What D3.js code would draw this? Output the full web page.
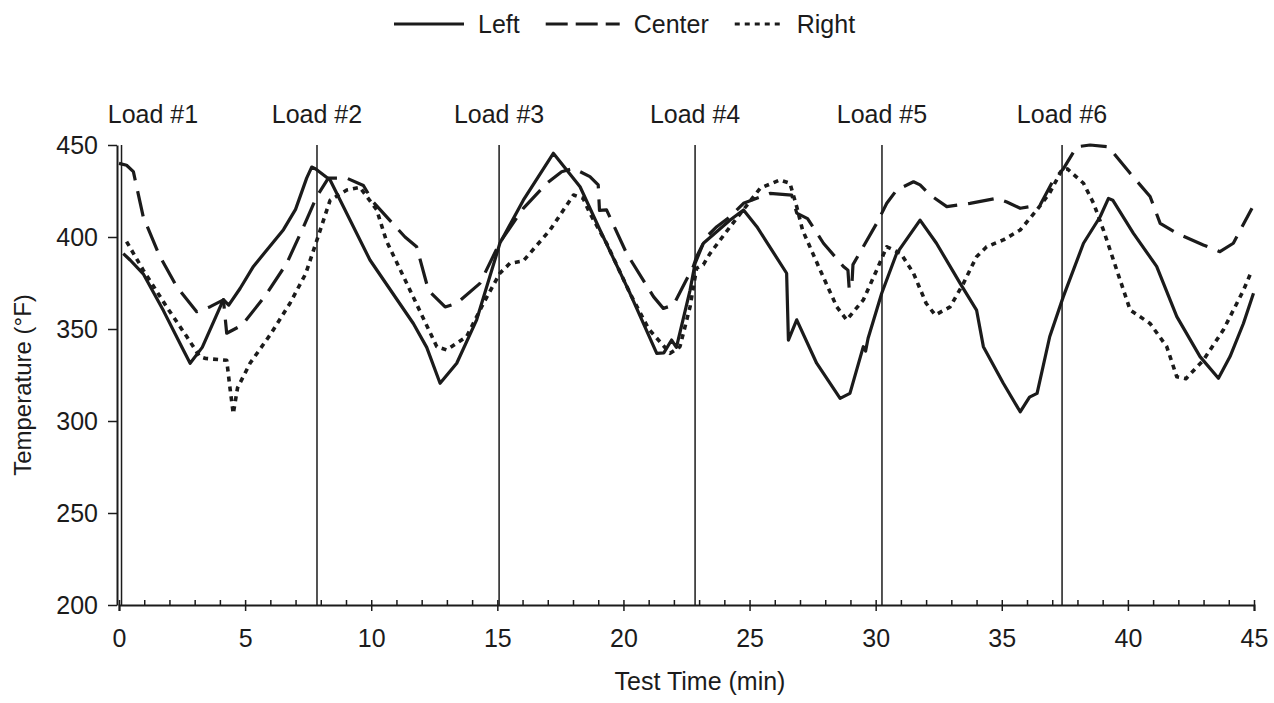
<!DOCTYPE html>
<html>
<head>
<meta charset="utf-8">
<script src="https://cdn.jsdelivr.net/npm/d3@7"></script>
<style>
  body { margin: 0; background: #fff; }
  svg { display: block; font-family: "Liberation Sans", Arial, Helvetica, sans-serif; }
</style>
</head>
<body>
<div id="chart"></div>
<script>
// temperature traces, [time (min), temp (°F)]
const leftData = [
  [0.17,391],[0.44,387.5],[0.96,380],[1.76,360],[2.55,338.6],[2.82,331.4],[3.3,340],[4.14,366],[4.35,363],
  [4.8,372],[5.33,384],[6.52,404],[7.0,415],[7.44,432],[7.64,438],[7.8,437],[8.37,431],[9.95,387.5],
  [11.67,353],[12.2,340],[12.73,320.5],[13.39,331.4],[14.18,355],[14.98,391],[15.1,396.6],[16.03,420],
  [17.22,445.5],[18.28,427.3],[19.07,403.8],[20.26,369.4],[21.32,336.8],[21.6,337],[21.91,344],[22.1,340],
  [22.64,371],[22.84,385.7],[23.17,396.6],[24.23,409.2],[24.76,414.7],[25.29,405.6],[26.47,380.3],
  [26.54,344],[26.87,355],[27.66,331.4],[28.59,312.3],[28.98,315],[29.51,340.4],[29.6,338],[29.7,345],
  [30.24,369.4],[30.83,391],[31.76,409.2],[32.41,396.6],[33.35,374.8],[34.0,360.3],[34.27,340.4],
  [35.06,320.5],[35.73,305],[36.1,313],[36.4,315],[36.9,345.8],[37.44,367.6],[38.24,396.6],[38.9,411],
  [39.23,421],[39.4,420],[40.22,402],[41.14,384],[41.94,356.7],[42.86,335],[43.59,323.2],[44.05,335],
  [44.58,353],[44.98,369.4]
];
const centerData = [
  [0,440],[0.3,439],[0.57,435.5],[0.96,411],[1.6,390],[2.29,373],[3.08,359.4],[3.6,362],[4.14,365.8],
  [4.27,347.7],[4.87,352],[5.8,368],[6.65,385.7],[7.3,405],[7.84,422],[8.3,432],[9.03,432],[9.69,428],
  [10.08,419],[11.34,400],[11.8,394.7],[12.27,371],[12.93,362],[13.39,364],[14.31,374.8],[15.1,397],
  [16.03,415.6],[16.96,429.2],[17.55,435.5],[18.02,437.3],[18.67,432.8],[19.0,428.3],[19.05,414.5],
  [19.33,414.7],[20.13,391],[21.19,367.6],[21.58,361.2],[21.98,363],[22.77,384],[22.9,389.3],[23.3,400.2],
  [23.7,405.6],[24.23,411],[24.76,418.3],[25.81,423.7],[26.67,422.8],[26.87,413],[27.3,410],[27.93,396.6],
  [28.72,384],[28.9,382],[28.95,372],[29.05,372],[29.1,385],[30.04,407.4],[30.44,418.3],[30.83,425.5],
  [31.5,430],[31.76,428.3],[32.16,422.8],[32.82,416.5],[33.74,418.3],[34.8,421],[35.2,419],[35.73,415.6],
  [36.52,417.4],[37.05,431],[37.44,437],[37.97,449],[38.5,450],[39.23,449],[40.09,434.6],[40.88,422],
  [41.28,407.4],[41.94,402],[42.99,395.7],[43.65,392],[44.18,396.6],[44.92,415.6]
];
const rightData = [
  [0.3,397.5],[0.96,382],[1.89,362],[2.68,346],[3.2,335],[3.44,334],[4.27,333],[4.4,318],[4.53,304],
  [4.7,318],[5.2,331.5],[6.0,347],[6.78,364],[7.4,380],[7.84,398],[8.37,420],[9.03,425.5],[9.55,427],
  [10.22,414.7],[10.6,398],[11.54,371],[12.6,340.4],[12.99,338.6],[13.78,345.8],[14.45,364],[15.1,380.3],
  [15.5,385.7],[16.03,387],[17.09,403.8],[18.02,422.8],[18.4,421],[18.67,412.9],[19.33,396.6],[20.26,369.4],
  [21.0,350],[21.85,336.8],[22.24,340.4],[22.64,362],[22.9,383],[23.17,385],[23.43,391],[24.23,405.6],
  [25.42,426.5],[26.2,431],[26.6,429.2],[26.87,416.5],[27.1,403.8],[27.8,382],[28.46,362],[28.85,354.9],
  [29.51,365.8],[30.04,382],[30.44,394.7],[31.0,391],[31.5,380.3],[32.0,364],[32.36,357.6],[32.95,362],
  [33.48,374.8],[34.0,389.3],[34.4,394.7],[35.06,398.4],[35.73,403.8],[36.39,414.7],[36.9,424],
  [37.38,436.4],[37.6,437],[38.24,429.2],[38.64,418.3],[39.03,403.8],[39.56,382],[40.09,360.3],
  [40.88,353],[41.54,340.4],[41.94,324],[42.3,323],[42.99,333],[43.78,349.4],[44.58,371],[44.92,382]
];

const loadTimes = [0.1, 7.85, 15.07, 22.84, 30.25, 37.39];
const loadLabels = ["Load #1", "Load #2", "Load #3", "Load #4", "Load #5", "Load #6"];

const seriesNames = ["Left", "Center", "Right"];
const xTicks = [0, 5, 10, 15, 20, 25, 30, 35, 40, 45];
const yTicks = [200, 250, 300, 350, 400, 450];

const width = 1274, height = 703;
const margin = {top: 145, right: 20, bottom: 98, left: 119};

const svg = d3.select("#chart").append("svg")
    .attr("width", width)
    .attr("height", height);

const x = d3.scaleLinear().domain([0, 45]).range([margin.left, width - margin.right]);
const y = d3.scaleLinear().domain([200, 450]).range([height - margin.bottom, margin.top]);

const ink = "#1b1b1b";
const styles = {
    Left:   {dash: null,    width: 3.2},
    Center: {dash: "26,11", width: 3.2},
    Right:  {dash: "5,5",   width: 3.6}
};

// load marker lines
svg.append("g").selectAll("line")
    .data(loadTimes)
    .join("line")
    .attr("x1", d => x(d)).attr("x2", d => x(d))
    .attr("y1", y(450)).attr("y2", y(200))
    .attr("stroke", ink)
    .attr("stroke-width", 1.5);

svg.append("g").selectAll("text")
    .data(loadTimes)
    .join("text")
    .attr("x", d => Math.max(x(d), margin.left + 34))
    .attr("y", margin.top - 22)
    .attr("text-anchor", "middle")
    .attr("font-size", 25)
    .attr("fill", ink)
    .text((d, i) => loadLabels[i]);

// axes
svg.append("g")
    .attr("transform", `translate(0,${y(200)})`)
    .call(d3.axisBottom(x).tickValues(xTicks).tickSize(6).tickPadding(18));
svg.append("g")
    .attr("transform", `translate(0,${y(200)})`)
    .call(d3.axisBottom(x).tickValues(d3.range(0, 46)).tickSize(-5).tickFormat(""))
    .call(g => g.select(".domain").remove());

const yAxis = svg.append("g")
    .attr("transform", `translate(${margin.left - 2},0)`)
    .call(d3.axisLeft(y).tickValues(yTicks).tickSize(9).tickPadding(10).tickSizeOuter(0));

svg.selectAll(".domain").attr("stroke", ink).attr("stroke-width", 2);
svg.selectAll(".tick line").attr("stroke", ink).attr("stroke-width", 1.5);
svg.selectAll(".tick text")
    .attr("font-size", 25)
    .attr("fill", ink)
    .attr("font-family", "Liberation Sans, Arial, sans-serif");
yAxis.selectAll(".tick text").attr("dy", "0.35em");

// axis titles
svg.append("text")
    .attr("x", 700)
    .attr("y", 690)
    .attr("text-anchor", "middle")
    .attr("font-size", 25)
    .attr("fill", ink)
    .text("Test Time (min)");

svg.append("text")
    .attr("transform", `translate(31,385) rotate(-90)`)
    .attr("text-anchor", "middle")
    .attr("font-size", 24)
    .attr("fill", ink)
    .text("Temperature (°F)");

// traces
const line = d3.line()
    .x(d => x(d[0]))
    .y(d => y(d[1]))
    .curve(d3.curveLinear);

const seriesData = {Left: leftData, Center: centerData, Right: rightData};

seriesNames.forEach(name => {
    svg.append("path")
        .datum(seriesData[name])
        .attr("fill", "none")
        .attr("stroke", ink)
        .attr("stroke-width", styles[name].width)
        .attr("stroke-linejoin", "round")
        .attr("stroke-dasharray", styles[name].dash)
        .attr("d", line);
});

// legend
const sampleLen = {Left: 70, Center: 74, Right: 48};
const legend = svg.append("g").attr("transform", "translate(394,24)");
let cursor = 0;
seriesNames.forEach(name => {
    legend.append("line")
        .attr("x1", cursor).attr("x2", cursor + sampleLen[name])
        .attr("y1", 0).attr("y2", 0)
        .attr("stroke", ink)
        .attr("stroke-width", 3)
        .attr("stroke-dasharray", name === "Center" ? "22,8" : styles[name].dash);
    cursor += sampleLen[name] + 14;
    const t = legend.append("text")
        .attr("x", cursor)
        .attr("y", 9)
        .attr("font-size", 25)
        .attr("fill", ink)
        .text(name);
    cursor += t.node().getComputedTextLength() + 26;
});
</script>
</body>
</html>
